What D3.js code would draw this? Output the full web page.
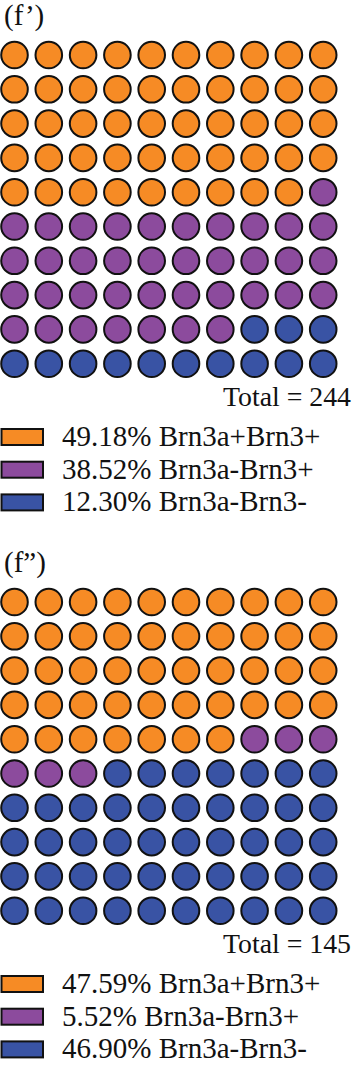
<!DOCTYPE html>
<html><head><meta charset="utf-8">
<script src="https://cdn.jsdelivr.net/npm/d3@7"></script>
<style>html,body{margin:0;padding:0;background:#fff;}svg{display:block;}</style>
</head><body>
<svg id="chart" width="354" height="1070"></svg>
<script>
// Data
const categories = ["Brn3a+Brn3+", "Brn3a-Brn3+", "Brn3a-Brn3-"];
const colors = ["#F68B25", "#8C4B9D", "#3953A4"];
const panelTitles = ["(f\u2019)", "(f\u201D)"];
const panelTotals = [244, 145];
const panelPercents = [
  [49.18, 38.52, 12.30],
  [47.59, 5.52, 46.90]
];
const panelCounts = [
  [49, 38, 13],
  [47, 6, 47]
];

const svg = d3.select("#chart");
const font = "'Liberation Serif', 'Times New Roman', serif";

const colScale = d3.scaleLinear().domain([0, 9]).range([14.5, 323.2]);
const rowScale = d3.scaleLinear().domain([0, 9]).range([55, 363.7]);
const legendScale = d3.scaleLinear().domain([0, 2]).range([0, 65.4]);
const color = d3.scaleOrdinal().domain(categories).range(colors);
const panelOffset = d3.scaleLinear().domain([0, 1]).range([0, 547]);

panelTitles.forEach((title, p) => {
  const g = svg.append("g").attr("transform", `translate(0,${panelOffset(p)})`);
  g.append("text").attr("x", 4).attr("y", 25)
    .attr("font-family", font).attr("font-size", 29).attr("fill", "#111")
    .text(title);

  const cells = [];
  panelCounts[p].forEach((n, k) => { for (let i = 0; i < n; i++) cells.push(categories[k]); });
  g.selectAll("circle").data(cells).join("circle")
    .attr("cx", (d, i) => colScale(i % 10))
    .attr("cy", (d, i) => rowScale(Math.floor(i / 10)))
    .attr("r", 13.3)
    .attr("fill", d => color(d))
    .attr("stroke", "#111").attr("stroke-width", 2);

  g.append("text").attr("x", 351).attr("y", 406).attr("text-anchor", "end")
    .attr("font-family", font).attr("font-size", 27.8).attr("fill", "#111")
    .text(`Total = ${panelTotals[p]}`);

  const leg = g.selectAll("g.leg").data(categories).join("g").attr("class", "leg")
    .attr("transform", (d, k) => `translate(0,${legendScale(k)})`);
  leg.append("rect").attr("x", 1.5).attr("y", 429).attr("width", 41.5).attr("height", 16)
    .attr("fill", d => color(d)).attr("stroke", "#111").attr("stroke-width", 2);
  leg.append("text").attr("x", 62).attr("y", 446)
    .attr("font-family", font).attr("font-size", 29).attr("fill", "#111")
    .text((d, k) => `${panelPercents[p][k].toFixed(2)}% ${d}`);
});
</script>
</body></html>
